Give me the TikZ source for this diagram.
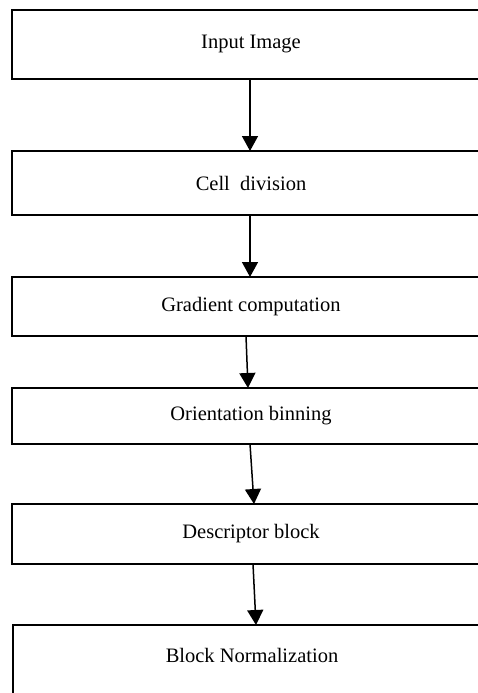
\documentclass[tikz,border=0pt]{standalone}
\usepackage{fontspec}
\setmainfont{Liberation Serif}
\usetikzlibrary{arrows.meta}
\begin{document}
\begin{tikzpicture}[x=1pt,y=-1pt,
  stagebox/.style={rectangle,outer sep=0pt,inner sep=0pt,
    font=\fontsize{20.5}{24}\selectfont,minimum width=478pt},
  boxline/.style={draw=black,line width=2pt,line join=miter},
  flow/.style={draw=black,line width=1.5pt,-{Triangle[width=16pt,length=15pt]}}]
\useasboundingbox (0,0) rectangle (478,693);
\clip (0,0) rectangle (478,693);
\fill[white] (0,0) rectangle (478,693);
\node[stagebox,minimum height=69pt] (a) at (251,44.5) {Input Image};
\node[stagebox,minimum height=64pt] (b) at (251,183) {Cell\ \ division};
\node[stagebox,minimum height=59pt] (c) at (251,306.5) {Gradient computation};
\node[stagebox,minimum height=56pt] (d) at (251,416) {Orientation binning};
\node[stagebox,minimum height=60pt] (e) at (251,534) {Descriptor block};
\node[stagebox,minimum height=60pt] (f) at (252,655) {Block Normalization};
\foreach \n in {a,b,c,d,e}
  \draw[boxline] (\n.north east) -- (\n.north west) -- (\n.south west) -- (\n.south east);
\draw[boxline] (f.north east) -- (f.north west) -- ([yshift=-30pt]f.south west);
\draw[flow] ([xshift=-1pt]a.south) -- ([xshift=-1pt]b.north);
\draw[flow] ([xshift=-1pt]b.south) -- ([xshift=-1pt]c.north);
\draw[flow] ([xshift=-5pt]c.south) -- ([xshift=-3pt]d.north);
\draw[flow] ([xshift=-1pt]d.south) -- ([xshift=3pt]e.north);
\draw[flow] ([xshift=2pt]e.south) -- ([xshift=4pt]f.north);
\end{tikzpicture}
\end{document}
